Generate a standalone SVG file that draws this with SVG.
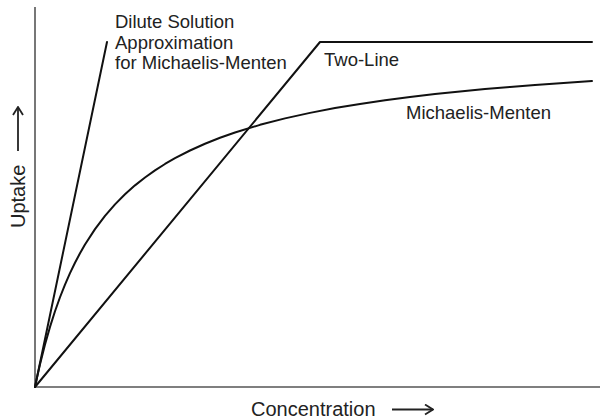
<svg xmlns="http://www.w3.org/2000/svg" width="601" height="419" viewBox="0 0 601 419">
<style>
.axis{stroke:#555;stroke-width:1.6;fill:none}
.curve{stroke:#111;stroke-width:2;fill:none;stroke-linejoin:round;stroke-linecap:round}
.lbl{font-family:"Liberation Sans",Arial,sans-serif;font-size:18.5px;fill:#222}
.ax{font-family:"Liberation Sans",Arial,sans-serif;font-size:20px;fill:#222}
.arr{stroke:#222;stroke-width:1.8;fill:none}
</style>
<defs>
<marker id="head" markerWidth="10" markerHeight="12" refX="9" refY="6" orient="auto" markerUnits="userSpaceOnUse">
<path d="M1,1 L9,6 L1,11" stroke="#222" stroke-width="1.8" fill="none"/>
</marker>
</defs>
<g id="axes">
<line class="axis" x1="35" y1="7" x2="35" y2="387"/>
<line class="axis" x1="35" y1="387" x2="600" y2="387"/>
</g>
<g id="connectors">
<path id="dilute" class="curve" d="M35,387 L107,42"/>
<path id="two-line" class="curve" d="M35,387 L320,42 L592,42"/>
<path id="michaelis-menten" class="curve" d="M35,387 L36,382.2 L37,377.56 L40,364.33 L45,344.46 L50,326.9 L55,311.26 L60,297.25 L65,284.63 L70,273.19 L75,262.79 L80,253.28 L85,244.56 L95,229.11 L105,215.85 L115,204.34 L125,194.26 L135,185.36 L145,177.45 L155,170.36 L165,163.98 L175,158.2 L190,150.5 L205,143.74 L220,137.8 L235,132.48 L260,124.84 L285,118.39 L310,112.87 L335,108.1 L360,103.93 L385,100.25 L410,96.99 L435,94.07 L460,91.45 L485,89.07 L510,86.91 L535,84.95 L560,83.15 L592,81.05"/>
</g>
<g id="label-dilute">
<text class="lbl" x="115" y="28">Dilute Solution</text>
<text class="lbl" x="115" y="48.5">Approximation</text>
<text class="lbl" x="115" y="69">for Michaelis-Menten</text>
</g>
<g id="label-two-line">
<text class="lbl" x="324" y="66">Two-Line</text>
</g>
<g id="label-mm">
<text class="lbl" x="406" y="119">Michaelis-Menten</text>
</g>
<g id="label-x">
<text class="ax" x="251" y="416">Concentration</text>
<line class="arr" x1="392" y1="409.5" x2="433" y2="409.5" marker-end="url(#head)"/>
</g>
<g id="label-y">
<text class="ax" transform="translate(25,228) rotate(-90)" x="0" y="0">Uptake</text>
<line class="arr" x1="18" y1="151" x2="18" y2="107" marker-end="url(#head)"/>
</g>
</svg>
